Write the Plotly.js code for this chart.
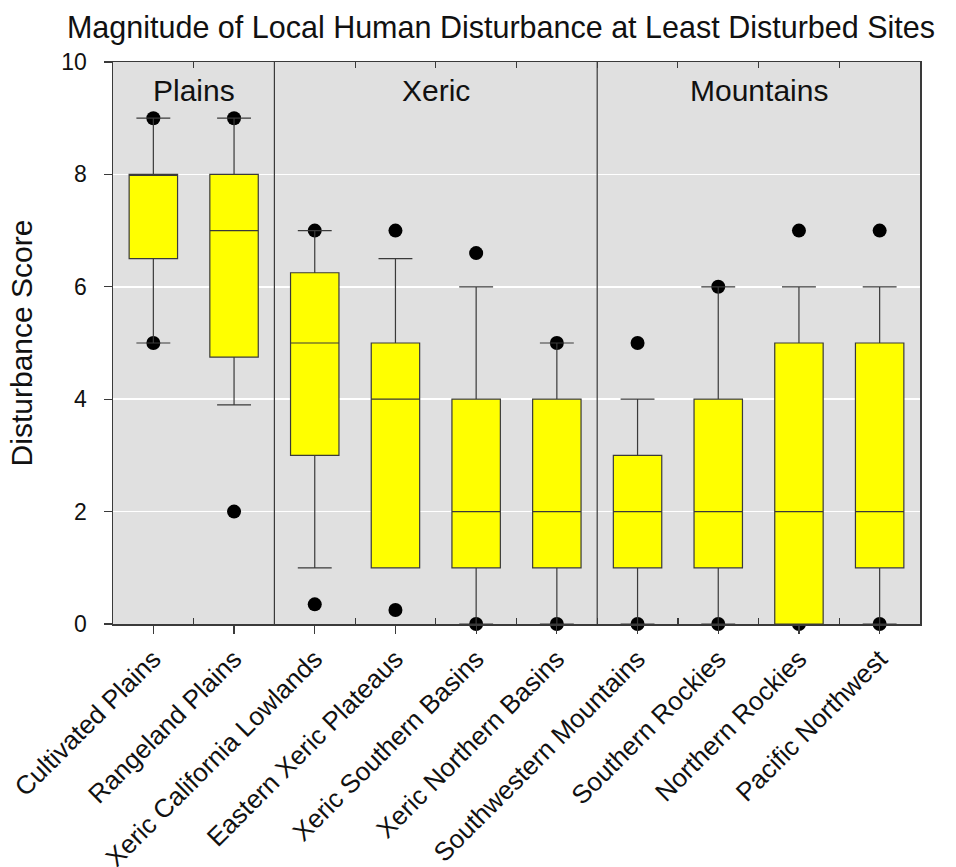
<!DOCTYPE html>
<html>
<head>
<meta charset="utf-8">
<script src="https://cdn.plot.ly/plotly-3.0.1.min.js"></script>
<style>html,body{margin:0;padding:0;background:#fff;}#chart{width:956px;height:867px;}</style>
</head>
<body>
<div id="chart"></div>
<script>
// ---- data ----
const categories = ['Cultivated Plains', 'Rangeland Plains', 'Xeric California Lowlands',
  'Eastern Xeric Plateaus', 'Xeric Southern Basins', 'Xeric Northern Basins',
  'Southwestern Mountains', 'Southern Rockies', 'Northern Rockies', 'Pacific Northwest'];
const q1Values        = [6.5, 4.75, 3.0, 1, 1, 1, 1, 1, 0, 1];
const medianValues    = [8,   7,    5,   4, 2, 2, 2, 2, 2, 2];
const q3Values        = [8,   8,    6.25, 5, 4, 4, 3, 4, 5, 5];
const lowerWhiskers   = [5,   3.9,  1,   1, 0, 0, 0, 0, 0, 0];
const upperWhiskers   = [9,   9,    7,   6.5, 6, 5, 4, 6, 6, 6];
const outlierCategory = ['Cultivated Plains','Cultivated Plains','Rangeland Plains','Rangeland Plains',
  'Xeric California Lowlands','Xeric California Lowlands','Eastern Xeric Plateaus','Eastern Xeric Plateaus',
  'Xeric Southern Basins','Xeric Southern Basins','Xeric Northern Basins','Xeric Northern Basins',
  'Southwestern Mountains','Southwestern Mountains','Southern Rockies','Southern Rockies',
  'Northern Rockies','Northern Rockies','Pacific Northwest','Pacific Northwest'];
const outlierValues   = [9, 5, 9, 2, 7, 0.35, 7, 0.25, 6.6, 0, 5, 0, 5, 0, 6, 0, 7, 0, 7, 0];
const groupNames      = ['Plains', 'Xeric', 'Mountains'];
const groupFirst      = ['Cultivated Plains', 'Xeric California Lowlands', 'Southwestern Mountains'];
const groupLast       = ['Rangeland Plains', 'Xeric Northern Basins', 'Pacific Northwest'];
const titleText = 'Magnitude of Local Human Disturbance at Least Disturbed Sites';
const yTitleText = 'Disturbance Score';

// ---- build ----
const idx = c => categories.indexOf(c);
const xPos = categories.map((c, i) => i);
const boundaries = categories.slice(1).map((c, i) => i + 0.5);
const FONT = 'Arial, "Liberation Sans", Helvetica, sans-serif';
const INK = '#3a3a3a';

const outlierTrace = {
  type: 'scatter', mode: 'markers',
  x: outlierCategory.map(idx), y: outlierValues,
  xaxis: 'x', yaxis: 'y',
  marker: {color: '#000', size: 14},
  cliponaxis: false, showlegend: false, hoverinfo: 'y'
};

const boxTrace = {
  type: 'box',
  x: xPos,
  q1: q1Values, median: medianValues, q3: q3Values,
  lowerfence: lowerWhiskers, upperfence: upperWhiskers,
  xaxis: 'x2', yaxis: 'y2',
  width: 0.6, whiskerwidth: 0.7,
  boxpoints: false,
  fillcolor: '#ffff00',
  line: {color: INK, width: 1.2},
  showlegend: false
};

const shapes = groupLast.slice(0, -1).map(c => ({
  type: 'line', xref: 'x', yref: 'y', x0: idx(c) + 0.5, x1: idx(c) + 0.5, y0: 0, y1: 10,
  line: {color: INK, width: 1.2}, layer: 'above'
}));

const annotations = groupNames.map((g, i) => ({
  text: g, xref: 'x', yref: 'y', x: (idx(groupFirst[i]) + idx(groupLast[i])) / 2, y: 9.5,
  xanchor: 'center', yanchor: 'middle', showarrow: false,
  font: {family: FONT, size: 30, color: '#111'}
}));

const layout = {
  width: 956, height: 867,
  margin: {l: 113, r: 36, t: 62, b: 243},
  paper_bgcolor: '#ffffff', plot_bgcolor: '#e0e0e0',
  font: {family: FONT, color: '#111'},
  showlegend: false,
  title: {text: titleText, x: 0.524, xref: 'container', xanchor: 'center',
          y: 0.968, yref: 'container', yanchor: 'middle',
          font: {family: FONT, size: 30.5, color: '#111'}},
  xaxis: {
    range: [-0.5, 9.5], tickmode: 'array', tickvals: xPos, ticktext: categories,
    ticks: 'outside', ticklen: 8, tickwidth: 1.2, tickcolor: INK,
    tickangle: -45, tickfont: {family: FONT, size: 26, color: '#111'},
    showline: true, linecolor: INK, linewidth: 1.5, showgrid: false, zeroline: false,
    minor: {tickmode: 'array', tickvals: boundaries, ticks: 'inside', ticklen: 6, tickcolor: INK, showgrid: false},
    fixedrange: true
  },
  xaxis2: {
    overlaying: 'x', side: 'top', anchor: 'y2',
    range: [-0.5, 9.5], tickmode: 'array', tickvals: boundaries,
    ticks: 'inside', ticklen: 6, tickcolor: INK, showticklabels: false,
    showline: true, linecolor: INK, linewidth: 1.5, showgrid: false, zeroline: false
  },
  yaxis: {
    range: [0, 10], tickmode: 'linear', tick0: 0, dtick: 2,
    ticks: 'outside', ticklen: 8, tickwidth: 1.2, tickcolor: INK,
    ticklabelstandoff: 12,
    tickfont: {family: FONT, size: 23, color: '#111'},
    showline: true, mirror: true, linecolor: INK, linewidth: 1.5,
    showgrid: true, gridcolor: '#ffffff', gridwidth: 1.5, zeroline: false,
    title: {text: yTitleText, font: {family: FONT, size: 30, color: '#111'}, standoff: 20},
    automargin: true
  },
  yaxis2: {
    overlaying: 'y', anchor: 'x2', range: [0, 10], visible: false, showgrid: false, zeroline: false
  },
  shapes: shapes,
  annotations: annotations
};

Plotly.newPlot('chart', [outlierTrace, boxTrace], layout, {displayModeBar: false, staticPlot: true});
</script>
</body>
</html>
